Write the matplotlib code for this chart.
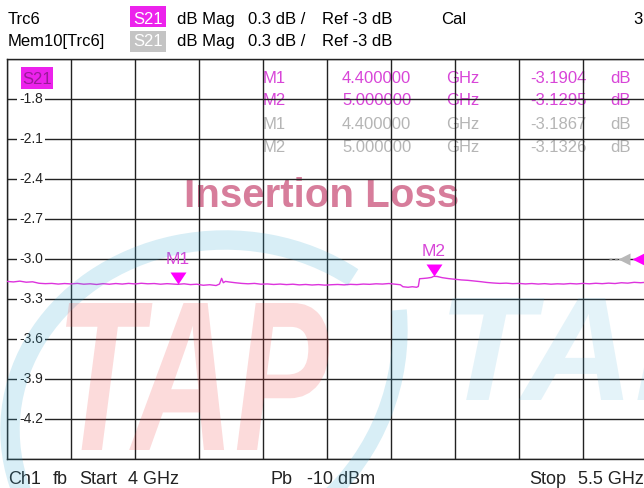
import matplotlib
matplotlib.use("Agg")
import matplotlib.pyplot as plt
import matplotlib.transforms as mtransforms
from matplotlib.patches import Rectangle, PathPatch, Arc
from matplotlib.textpath import TextPath
from matplotlib.font_manager import FontProperties

W, H = 644, 488
FONT = "Liberation Sans"

# sweep / scale settings shown on the analyzer
start_ghz = 4.0
stop_ghz = 5.5
ref_db = -3.0
top_db = -1.5
bottom_db = -4.5
x_grid = [4.0, 4.15, 4.3, 4.45, 4.6, 4.75, 4.9, 5.05, 5.2, 5.35, 5.5]
y_grid = [-1.5, -1.8, -2.1, -2.4, -2.7, -3.0, -3.3, -3.6, -3.9, -4.2, -4.5]
y_label_vals = [-1.8, -2.1, -2.4, -2.7, -3.0, -3.3, -3.6, -3.9, -4.2]

# S21 trace
freq_ghz = [4.000, 4.015, 4.030, 4.045, 4.060, 4.075, 4.090, 4.105, 4.120, 4.135,
            4.150, 4.165, 4.180, 4.195, 4.210, 4.225, 4.240, 4.255, 4.270, 4.285,
            4.300, 4.315, 4.330, 4.345, 4.360, 4.375, 4.390, 4.400, 4.415, 4.430,
            4.445, 4.460, 4.475, 4.490, 4.498, 4.503, 4.507, 4.512, 4.520, 4.535,
            4.550, 4.565, 4.580, 4.595, 4.610, 4.625, 4.640, 4.655, 4.670, 4.685,
            4.700, 4.715, 4.730, 4.745, 4.760, 4.775, 4.790, 4.805, 4.820, 4.835,
            4.850, 4.865, 4.880, 4.895, 4.910, 4.922, 4.928, 4.940, 4.950, 4.960,
            4.964, 4.967, 4.975, 4.985, 4.995, 5.000, 5.008, 5.020, 5.035, 5.050,
            5.065, 5.080, 5.095, 5.110, 5.125, 5.140, 5.155, 5.170, 5.185, 5.200,
            5.215, 5.230, 5.245, 5.260, 5.275, 5.290, 5.305, 5.320, 5.335, 5.350,
            5.365, 5.380, 5.395, 5.410, 5.425, 5.440, 5.455, 5.470, 5.485, 5.500]
s21_db = [-3.168, -3.172, -3.166, -3.174, -3.171, -3.182, -3.185, -3.183, -3.188, -3.184,
          -3.187, -3.183, -3.189, -3.186, -3.191, -3.185, -3.189, -3.184, -3.188, -3.183,
          -3.187, -3.182, -3.186, -3.184, -3.189, -3.185, -3.188, -3.190, -3.186, -3.192,
          -3.189, -3.197, -3.193, -3.199, -3.188, -3.145, -3.178, -3.168, -3.172, -3.178,
          -3.183, -3.186, -3.183, -3.189, -3.187, -3.191, -3.188, -3.192, -3.189, -3.194,
          -3.191, -3.195, -3.192, -3.196, -3.193, -3.191, -3.194, -3.190, -3.192, -3.188,
          -3.190, -3.186, -3.188, -3.184, -3.189, -3.193, -3.208, -3.212, -3.208, -3.212,
          -3.206, -3.148, -3.146, -3.143, -3.138, -3.130, -3.131, -3.140, -3.147, -3.152,
          -3.157, -3.160, -3.165, -3.170, -3.176, -3.180, -3.183, -3.181, -3.185, -3.183,
          -3.187, -3.184, -3.188, -3.185, -3.189, -3.186, -3.188, -3.184, -3.187, -3.183,
          -3.186, -3.182, -3.185, -3.181, -3.184, -3.178, -3.181, -3.175, -3.178, -3.174]

marker_names = ["M1", "M2"]
marker_freq = [4.4, 5.0]
marker_db = [-3.1904, -3.1295]
mem_marker_db = [-3.1867, -3.1326]

magenta = "#ec22ec"
trace_col = "#dd33dd"
table_col = "#d845d8"
gray_col = "#b5b5b5"


def fx(px):
    return px / W


def fy(py):
    return 1 - py / H


fig = plt.figure(figsize=(W / 100, H / 100), dpi=100)
fig.patch.set_facecolor("white")

ax = fig.add_axes([fx(7), fy(459), 640 / W, 400 / H])
ax.set_facecolor("none")
ax.set_xlim(start_ghz, stop_ghz)
ax.set_ylim(bottom_db, top_db)
ax.set_xticks(x_grid)
ax.set_yticks(y_grid)
ax.tick_params(length=0, labelbottom=False, labelleft=False)
ax.grid(True, color="#222222", lw=1.0)
ax.set_axisbelow(False)
for sp in ax.spines.values():
    sp.set_color("#222222")
    sp.set_linewidth(1.0)

# y labels sit inside the grid on white patches
ylab_tr = mtransforms.blended_transform_factory(ax.transAxes, ax.transData)
for v in y_label_vals:
    ax.text(0.0375, v, f"{v:.1f}", transform=ylab_tr, ha="center", va="center",
            fontsize=10, family=FONT, color="#222222", zorder=4,
            bbox=dict(boxstyle="square,pad=0.12", fc="white", ec="none"))

# trace and markers
ax.plot(freq_ghz, s21_db, color=trace_col, lw=1.0, zorder=3)
tri = [(-1, 0.75), (1, 0.75), (0, -0.75), (-1, 0.75)]
up6 = mtransforms.offset_copy(ax.transData, fig=fig, x=0, y=6, units="dots")
ax.plot(marker_freq, marker_db, ls="none", marker=tri, ms=11.5, color="#ff00ff",
        mec="none", transform=up6, zorder=5)
for name, f, v in zip(marker_names, marker_freq, marker_db):
    ax.annotate(name, (f, v), xytext=(0, 18), textcoords="offset points",
                ha="center", va="center", fontsize=12.5, family=FONT,
                color=table_col, zorder=5)

# reference level arrows at the right edge
ax.plot([0.941, 0.958], [ref_db, ref_db], transform=ylab_tr, color="#888888",
        lw=1, ls=(0, (2, 2)), clip_on=False, zorder=5)
ax.plot([0.9648], [ref_db], transform=ylab_tr, marker="<", ms=9, color="#b8b8b8",
        mec="none", clip_on=False, zorder=5)
ax.plot([0.9906], [ref_db], transform=ylab_tr, marker="<", ms=12.5, color="#ff00ff",
        mec="none", clip_on=False, zorder=5)

# "Insertion Loss" label, under the grid
ax.text(fx(321.5), fy(207), "Insertion Loss", transform=fig.transFigure,
        ha="center", va="baseline", fontsize=29, fontweight="bold", family=FONT,
        color="#d77d9b", zorder=1, clip_on=False)

# S21 tag inside the diagram
fig.add_artist(Rectangle((fx(21), fy(89)), 32 / W, 22 / H, transform=fig.transFigure,
                         fc=magenta, ec="none", zorder=5))
fig.text(fx(37), fy(84), "S21", ha="center", va="baseline", fontsize=12,
         family=FONT, color="#9a1a9a", zorder=6)

# header lines
hdr = [("Trc6", magenta, 24, 6), ("Mem10[Trc6]", "#c4c4c4", 46, 31)]
for label, box_col, base, box_top in hdr:
    fig.text(fx(8), fy(base), label, fontsize=12, family=FONT, va="baseline")
    fig.add_artist(Rectangle((fx(130), fy(box_top + 21)), 36 / W, 21 / H,
                             transform=fig.transFigure, fc=box_col, ec="none"))
    fig.text(fx(148), fy(base), "S21", ha="center", va="baseline", fontsize=12,
             family=FONT, color="white", zorder=6)
    fig.text(fx(177), fy(base), "dB Mag", fontsize=12, family=FONT, va="baseline")
    fig.text(fx(248), fy(base), "0.3 dB /", fontsize=12, family=FONT, va="baseline")
    fig.text(fx(322), fy(base), "Ref -3 dB", fontsize=12, family=FONT, va="baseline")
fig.text(fx(441), fy(24), "Cal", fontsize=12, family=FONT, va="baseline")
fig.text(fx(633), fy(24), "3", fontsize=12, family=FONT, va="baseline")

# marker readout table
rows = [(marker_names[0], marker_freq[0], marker_db[0], table_col, 83),
        (marker_names[1], marker_freq[1], marker_db[1], table_col, 105),
        (marker_names[0], marker_freq[0], mem_marker_db[0], gray_col, 129),
        (marker_names[1], marker_freq[1], mem_marker_db[1], gray_col, 152)]
for name, f, v, col, base in rows:
    for px, s in [(263, name), (342, f"{f:.6f}"), (446, "GHz"), (530, f"{v:.4f}"), (610, "dB")]:
        ax.text(fx(px), fy(base), s, transform=fig.transFigure, fontsize=12,
                family=FONT, color=col, va="baseline", zorder=1, clip_on=False)

# footer
for px, s in [(8, "Ch1"), (53, "fb"), (79, "Start"), (128, "4 GHz"),
              (270, "Pb"), (307, "-10 dBm"), (529, "Stop"), (578, "5.5 GHz")]:
    fig.text(fx(px), fy(484), s, fontsize=13, family=FONT, color="#222222", va="baseline")

# faint logo watermark laid over the screen
pix = mtransforms.Affine2D().scale(1 / W, 1 / H) + fig.transFigure


def stamp(text, x0, x1, ytop, ybot, color, alpha):
    tp = TextPath((0, 0), text, size=100,
                  prop=FontProperties(family=FONT, weight="bold", style="italic"))
    ext = tp.get_extents()
    tr = (mtransforms.Affine2D().translate(-ext.x0, -ext.y0)
          .scale((x1 - x0) / ext.width, (ybot - ytop) / ext.height)
          .translate(x0, H - ybot)) + pix
    fig.add_artist(PathPatch(tp, transform=tr, fc=color, ec="none", alpha=alpha, zorder=20))


fig.add_artist(Arc((225, H - 430), 430, 380, theta1=50, theta2=250, transform=pix,
                   color="#3caad2", lw=14, alpha=0.2, zorder=20))
fig.add_artist(Arc((170, H - 330), 460, 460, theta1=-48, theta2=5, transform=pix,
                   color="#3caad2", lw=11, alpha=0.2, zorder=20))
stamp("TAP", 66, 329, 303, 450, "#f04040", 0.19)
stamp("TAP", 449, 739, 298, 400, "#50b0d8", 0.15)

fig.savefig("out.png", dpi=100)
